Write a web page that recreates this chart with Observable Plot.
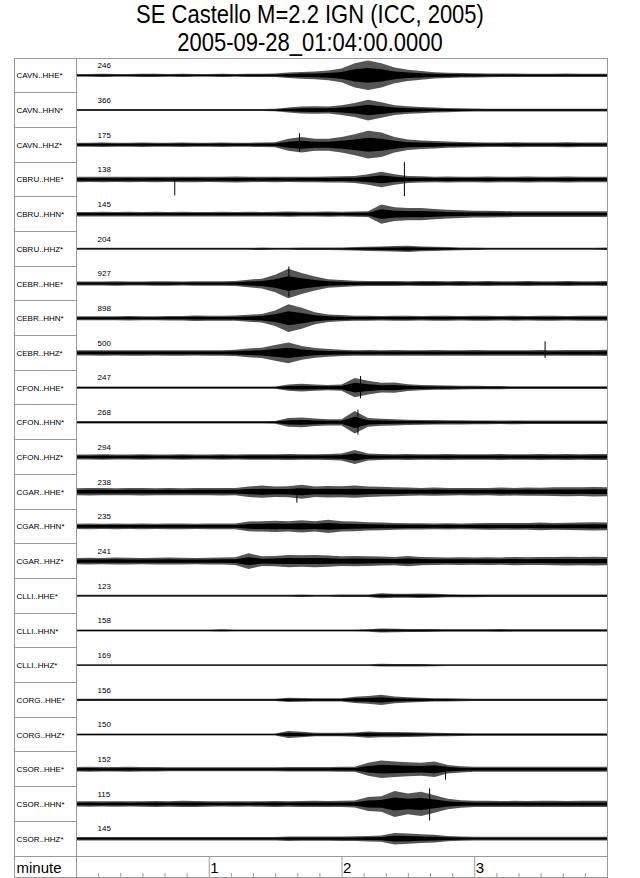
<!DOCTYPE html>
<html>
<head>
<meta charset="utf-8">
<script src="https://cdn.jsdelivr.net/npm/d3@7"></script>
<script src="https://cdn.jsdelivr.net/npm/@observablehq/plot@0.6"></script>
<style>
  body { margin: 0; background: #fff; }
  #title { height: 57px; overflow: visible; }
  #title .inner {
    width: 620px; padding-top: 1.15px;
    text-align: center; font-family: "Liberation Sans", Arial, sans-serif;
    font-size: 22px; line-height: 24.3px; color: #000;
    transform: scaleY(1.15); transform-origin: 0 0;
  }
</style>
</head>
<body>
<div id="title"><div class="inner">
  <div>SE Castello M=2.2 IGN (ICC, 2005)</div>
  <div>2005-09-28_01:04:00.0000</div>
</div></div>
<div id="chart"></div>
<script>
// Record section: one row per channel, time in minutes after 01:04:00.
// Traces are drawn as amplitude envelopes (6 s steps),
// 100 = half a row.
const channels = [
  "CAVN..HHE*", "CAVN..HHN*", "CAVN..HHZ*",
  "CBRU..HHE*", "CBRU..HHN*", "CBRU..HHZ*",
  "CEBR..HHE*", "CEBR..HHN*", "CEBR..HHZ*",
  "CFON..HHE*", "CFON..HHN*", "CFON..HHZ*",
  "CGAR..HHE*", "CGAR..HHN*", "CGAR..HHZ*",
  "CLLI..HHE*", "CLLI..HHN*", "CLLI..HHZ*",
  "CORG..HHE*", "CORG..HHZ*",
  "CSOR..HHE*", "CSOR..HHN*", "CSOR..HHZ*"
];
const peakCounts = [246, 366, 175, 138, 145, 204, 927, 898, 500, 247, 268, 294,
                    238, 235, 241, 123, 158, 169, 156, 150, 152, 115, 145];

const minutes = [0, 0.1, 0.2, 0.3, 0.4, 0.5, 0.6, 0.7, 0.8, 0.9,
                 1, 1.1, 1.2, 1.3, 1.4, 1.5, 1.6, 1.7, 1.8, 1.9,
                 2, 2.1, 2.2, 2.3, 2.4, 2.5, 2.6, 2.7, 2.8, 2.9,
                 3, 3.1, 3.2, 3.3, 3.4, 3.5, 3.6, 3.7, 3.8, 3.9, 4];

const cavnHHE = [8, 8, 9, 8, 8, 9, 9, 8, 9, 8, 8, 9, 8, 9, 9, 10, 16, 20, 22, 28, 40, 70, 85, 70, 45, 32, 25, 18, 15, 13, 12, 11, 10, 10, 9, 9, 9, 10, 9, 9, 9];
const cavnHHN = [6, 6, 6, 6, 6, 6, 6, 6, 6, 6, 6, 6, 6, 6, 6, 7, 14, 20, 22, 20, 28, 40, 60, 45, 28, 22, 18, 14, 12, 10, 9, 8, 8, 8, 8, 8, 8, 8, 8, 8, 8];
const cavnHHZ = [12, 12, 13, 12, 12, 13, 12, 12, 13, 12, 12, 13, 12, 12, 13, 15, 35, 45, 35, 35, 45, 60, 80, 70, 45, 30, 25, 22, 18, 16, 15, 13, 13, 14, 13, 13, 13, 14, 13, 13, 13];
const cbruHHE = [16, 15, 16, 15, 16, 15, 16, 15, 16, 16, 15, 16, 17, 16, 15, 16, 15, 16, 16, 17, 18, 20, 30, 45, 30, 20, 18, 16, 17, 16, 16, 17, 16, 16, 17, 16, 16, 17, 16, 16, 16];
const cbruHHN = [13, 13, 14, 13, 14, 13, 14, 13, 14, 13, 13, 14, 13, 14, 13, 14, 15, 14, 14, 15, 14, 15, 16, 55, 40, 35, 35, 30, 25, 22, 20, 20, 18, 17, 17, 16, 16, 17, 16, 16, 17];
const cbruHHZ = [6, 6, 6, 6, 6, 6, 6, 6, 6, 6, 6, 6, 6, 6, 7, 6, 6, 7, 7, 7, 8, 10, 12, 14, 16, 18, 14, 12, 10, 8, 7, 6, 6, 6, 6, 6, 6, 6, 6, 6, 7];
const cebrHHE = [12, 12, 12, 13, 12, 12, 13, 13, 12, 13, 13, 13, 14, 22, 28, 50, 85, 60, 40, 25, 20, 16, 15, 14, 14, 13, 14, 14, 13, 14, 13, 14, 13, 13, 14, 13, 13, 14, 13, 13, 14];
const cebrHHN = [12, 12, 12, 12, 13, 12, 12, 13, 13, 16, 14, 14, 15, 20, 25, 45, 80, 60, 35, 22, 18, 14, 14, 13, 14, 14, 13, 14, 14, 13, 14, 14, 13, 14, 13, 14, 14, 13, 14, 14, 14];
const cebrHHZ = [15, 15, 16, 15, 16, 16, 15, 16, 16, 15, 16, 16, 18, 25, 30, 45, 60, 40, 28, 22, 18, 16, 17, 16, 17, 16, 16, 17, 16, 16, 17, 16, 16, 16, 16, 17, 16, 17, 17, 17, 18];
const cfonHHE = [6, 6, 6, 6, 6, 6, 6, 6, 6, 6, 6, 6, 6, 6, 6, 7, 18, 22, 18, 15, 18, 55, 40, 28, 30, 20, 15, 13, 12, 11, 10, 9, 9, 8, 8, 8, 8, 8, 8, 8, 8];
const cfonHHN = [7, 7, 7, 7, 7, 7, 7, 7, 7, 7, 7, 7, 7, 7, 7, 8, 25, 28, 22, 18, 18, 65, 25, 20, 18, 15, 14, 13, 12, 12, 11, 11, 10, 11, 10, 10, 10, 10, 10, 10, 10];
const cfonHHZ = [15, 15, 16, 15, 15, 16, 15, 15, 16, 15, 15, 16, 15, 16, 16, 16, 17, 16, 16, 17, 20, 40, 20, 17, 16, 17, 16, 16, 17, 16, 16, 16, 17, 16, 16, 17, 16, 17, 16, 17, 17];
const cgarHHE = [20, 22, 21, 20, 21, 22, 20, 21, 20, 21, 21, 22, 21, 30, 35, 30, 32, 40, 30, 33, 32, 35, 30, 28, 26, 24, 22, 24, 22, 21, 22, 21, 24, 22, 24, 23, 25, 26, 25, 27, 26];
const cgarHHN = [15, 16, 15, 16, 15, 16, 15, 16, 16, 15, 16, 16, 17, 28, 30, 33, 30, 35, 30, 38, 30, 28, 24, 22, 20, 18, 18, 17, 18, 17, 18, 20, 19, 20, 19, 22, 20, 21, 22, 24, 22];
const cgarHHZ = [18, 19, 18, 20, 19, 18, 19, 20, 19, 18, 19, 20, 22, 45, 28, 30, 35, 33, 35, 32, 28, 30, 28, 26, 24, 30, 24, 22, 21, 22, 21, 22, 21, 24, 22, 23, 24, 25, 24, 25, 24];
const clliHHE = [6, 6, 6, 6, 6, 6, 6, 6, 6, 6, 6, 6, 6, 6, 6, 6, 6, 7, 6, 6, 7, 7, 7, 14, 12, 12, 13, 11, 9, 8, 8, 7, 7, 7, 7, 7, 7, 7, 7, 7, 7];
const clliHHN = [6, 6, 6, 6, 6, 6, 6, 6, 6, 6, 6, 7, 6, 6, 6, 6, 6, 6, 6, 6, 6, 6, 7, 11, 10, 9, 9, 8, 7, 7, 7, 7, 8, 7, 7, 7, 7, 7, 7, 7, 7];
const clliHHZ = [5, 5, 5, 5, 5, 5, 5, 5, 5, 5, 5, 5, 5, 5, 5, 5, 5, 5, 5, 5, 5, 5, 5, 8, 7, 7, 7, 6, 5, 5, 5, 5, 5, 5, 5, 5, 5, 5, 5, 5, 5];
const corgHHE = [6, 6, 6, 6, 6, 6, 6, 6, 6, 6, 6, 6, 6, 6, 6, 6, 12, 11, 10, 9, 10, 18, 22, 30, 20, 15, 12, 10, 9, 8, 7, 7, 7, 7, 7, 7, 7, 7, 7, 7, 7];
const corgHHZ = [6, 6, 6, 6, 6, 6, 6, 6, 6, 6, 6, 6, 6, 6, 6, 6, 20, 16, 10, 10, 10, 12, 18, 15, 15, 14, 12, 10, 9, 8, 7, 7, 7, 7, 7, 7, 7, 7, 7, 7, 7];
const csorHHE = [13, 14, 13, 13, 14, 13, 13, 12, 12, 12, 12, 12, 12, 12, 12, 12, 13, 13, 13, 13, 14, 14, 38, 50, 45, 40, 38, 45, 25, 18, 15, 14, 14, 15, 14, 14, 15, 14, 14, 15, 15];
const csorHHN = [15, 16, 15, 16, 15, 16, 17, 16, 18, 17, 16, 15, 16, 15, 16, 17, 16, 17, 18, 17, 18, 20, 40, 45, 75, 60, 70, 50, 30, 22, 18, 18, 17, 18, 17, 18, 18, 17, 18, 18, 18];
const csorHHZ = [10, 10, 10, 10, 10, 10, 10, 10, 10, 10, 10, 10, 10, 10, 10, 10, 13, 12, 12, 12, 13, 14, 16, 18, 33, 30, 25, 22, 15, 12, 11, 11, 11, 11, 11, 11, 11, 11, 11, 11, 11];

const envelopes = [cavnHHE, cavnHHN, cavnHHZ, cbruHHE, cbruHHN, cbruHHZ,
                   cebrHHE, cebrHHN, cebrHHZ, cfonHHE, cfonHHN, cfonHHZ,
                   cgarHHE, cgarHHN, cgarHHZ, clliHHE, clliHHN, clliHHZ,
                   corgHHE, corgHHZ, csorHHE, csorHHN, csorHHZ];

// single large swings: [channel, minute, low, high]
const spikes = [
  ["CAVN..HHN*", 0, -30, 35],
  ["CAVN..HHZ*", 1.68, -40, 67],
  ["CBRU..HHE*", 0, -50, 90],
  ["CBRU..HHE*", 0.74, -92, 10],
  ["CBRU..HHE*", 2.47, -96, 100],
  ["CBRU..HHN*", 0, -50, 15],
  ["CEBR..HHE*", 1.6, -75, 98],
  ["CEBR..HHZ*", 3.53, -29, 67],
  ["CFON..HHE*", 2.14, -62, 67],
  ["CFON..HHN*", 0, -52, 35],
  ["CFON..HHN*", 2.12, -71, 73],
  ["CGAR..HHE*", 0, -70, 0],
  ["CGAR..HHE*", 1.66, -63, 20],
  ["CGAR..HHN*", 0, -10, 48],
  ["CLLI..HHE*", 0, 0, 48],
  ["CLLI..HHN*", 0, -48, 86],
  ["CLLI..HHZ*", 0, 0, 38],
  ["CORG..HHE*", 0, -67, 58],
  ["CORG..HHZ*", 0, -90, 63],
  ["CSOR..HHE*", 2.78, -60, 20],
  ["CSOR..HHN*", 2.66, -95, 90],
  ["CSOR..HHZ*", 0, 0, 90]
];

const minuteTicks = [1, 2, 3];
const minorSeconds = d3.range(10, 240, 10).filter(s => s % 60 !== 0);

const traceRows = channels.flatMap((c, i) =>
  minutes.map((t, j) => ({channel: c, t: t, env: envelopes[i][j]})));
const spikeRows = spikes.map(([channel, t, lo, hi]) => ({channel, t, lo, hi}));
const labelRows = channels.map((c, i) => ({channel: c, peak: peakCounts[i]}));
const lastChannel = channels[channels.length - 1];

const W = 640, H = 821;
const labelCol = 62;   // width of the station-name column
const ruleColor = "#9a9a9a";
const core = 0.5;      // share of the envelope drawn solid black

const chart = Plot.plot({
  width: W,
  height: H,
  marginLeft: 76,
  marginRight: 33,
  marginTop: 1,
  marginBottom: 22,
  style: {
    background: "#fff",
    color: "#000",
    fontFamily: "'Liberation Sans', Arial, sans-serif",
    fontSize: "8px",
    overflow: "visible"
  },
  x: {domain: [0, 4]},
  y: {domain: [-100, 100], axis: null},
  fy: {domain: channels, padding: 0, round: false, axis: null, label: null},
  marks: [
    // outer envelope in dark grey, solid core on top
    Plot.areaY(traceRows, {
      x: "t", y1: d => -d.env, y2: d => d.env, fy: "channel",
      fill: "#555", curve: "linear"
    }),
    Plot.areaY(traceRows, {
      x: "t", y1: d => -core * d.env, y2: d => core * d.env, fy: "channel",
      fill: "#000", curve: "linear"
    }),
    Plot.ruleX(spikeRows, {
      x: "t", y1: "lo", y2: "hi", fy: "channel", stroke: "#000", strokeWidth: 1
    }),
    Plot.text(labelRows, {
      fy: "channel", text: "channel", frameAnchor: "left",
      textAnchor: "start", dx: -(labelCol - 2), fontSize: 8
    }),
    Plot.text(labelRows, {
      fy: "channel", text: d => String(d.peak), frameAnchor: "top-left",
      dx: 21, dy: 4, fontSize: 8
    }),
    Plot.text(["minute"], {
      fy: () => lastChannel, text: d => d, frameAnchor: "bottom-left",
      textAnchor: "start", lineAnchor: "middle", dx: -(labelCol - 2), dy: 12,
      fontSize: 15
    }),
    // minute lines across the axis row, then their labels
    Plot.axisX(minuteTicks, {
      anchor: "bottom", tickSize: 21, tickFormat: () => "",
      stroke: ruleColor, label: null
    }),
    Plot.axisX(minuteTicks, {
      anchor: "bottom", tickSize: 0, tickPadding: 6, dx: 1,
      textAnchor: "start", tickFormat: d => String(d), fontSize: 15,
      stroke: "none", fill: "#000", label: null
    }),
    // 10-second marks along the bottom edge
    Plot.axisX(minorSeconds.map(s => s / 60), {
      anchor: "bottom", tickSize: 4, dy: 17, tickFormat: () => "",
      stroke: ruleColor, label: null
    })
  ]
});

document.getElementById("chart").appendChild(chart);

// table rules: outer box, name column, row separators in the name column
const xs = chart.scale("x"), fys = chart.scale("fy");
const xZero = xs.apply(0), xEnd = xs.apply(4), xBox = xZero - labelCol;
const yBox = fys.apply(channels[0]);
const yRowsEnd = fys.apply(lastChannel) + fys.bandwidth;
const yBottom = H - 1;
const rules = d3.select(chart).append("g")
  .attr("stroke", ruleColor).attr("fill", "none").attr("shape-rendering", "crispEdges");
rules.append("rect").attr("x", xBox).attr("y", yBox)
  .attr("width", xEnd - xBox).attr("height", yBottom - yBox);
rules.append("line").attr("x1", xZero).attr("x2", xZero).attr("y1", yBox).attr("y2", yBottom);
rules.append("line").attr("x1", xBox).attr("x2", xEnd).attr("y1", yRowsEnd).attr("y2", yRowsEnd);
rules.selectAll("line.sep").data(channels.slice(1)).join("line")
  .attr("class", "sep")
  .attr("x1", xBox).attr("x2", xZero)
  .attr("y1", d => fys.apply(d)).attr("y2", d => fys.apply(d));
</script>
</body>
</html>
